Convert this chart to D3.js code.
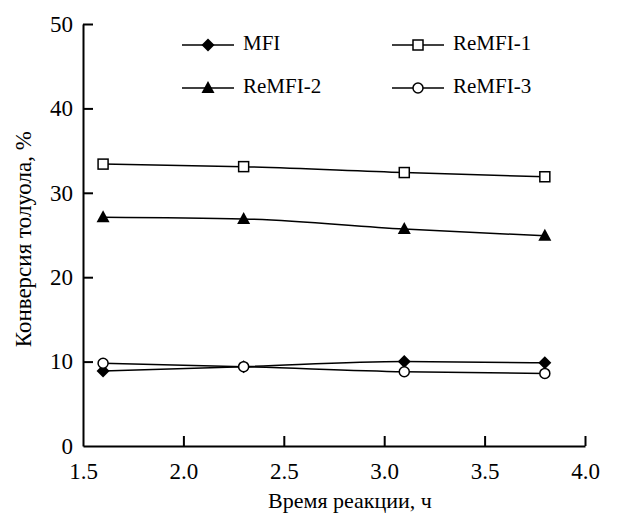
<!DOCTYPE html>
<html>
<head>
<meta charset="utf-8">
<script src="https://cdn.jsdelivr.net/npm/d3@7"></script>
<style>
  body { margin: 0; background: #fff; }
  #prime { position: absolute; left: 300px; top: 300px; color: #fff; font-family: 'Times New Roman', serif; font-size: 20px; }
  #chart { position: absolute; left: 0; top: 0; }
  #chart text { font-family: 'Times New Roman', serif; }
</style>
</head>
<body>
<div id="prime">Время реакции ReMFI 1.5</div>
<svg id="chart" width="637" height="514"></svg>
<script>
const width = 637;
const height = 514;

const times = [1.6, 2.3, 3.1, 3.8];
const mfi = [8.9, 9.4, 10.0, 9.85];
const remfi1 = [33.4, 33.1, 32.4, 31.9];
const remfi2 = [27.1, 26.9, 25.7, 24.9];
const remfi3 = [9.8, 9.4, 8.8, 8.6];

const xTicks = [1.5, 2.0, 2.5, 3.0, 3.5, 4.0];
const yTicks = [0, 10, 20, 30, 40, 50];

const seriesList = [
    { name: "MFI", values: mfi, marker: "diamond" },
    { name: "ReMFI-1", values: remfi1, marker: "square" },
    { name: "ReMFI-2", values: remfi2, marker: "triangle" },
    { name: "ReMFI-3", values: remfi3, marker: "circle" }
];

const margin = { left: 83, right: 52, top: 24, bottom: 68 };

const x = d3.scaleLinear().domain([1.5, 4.0]).range([margin.left, width - margin.right]);
const y = d3.scaleLinear().domain([0, 50]).range([height - margin.bottom, margin.top]);

const svg = d3.select("#chart");

// axes with inward ticks
const xAxis = svg.append("g")
    .attr("transform", `translate(0,${y(0)})`)
    .call(d3.axisBottom(x).tickValues(xTicks).tickSizeInner(-10).tickSizeOuter(0).tickPadding(17).tickFormat(d3.format(".1f")));
const yAxis = svg.append("g")
    .attr("transform", `translate(${x(1.5)},0)`)
    .call(d3.axisLeft(y).tickValues(yTicks).tickSizeInner(-10).tickSizeOuter(0).tickPadding(10));

[xAxis, yAxis].forEach(ax => {
    ax.attr("font-family", null).attr("font-size", 23);
    ax.select(".domain").attr("stroke", "#000").attr("stroke-width", 2);
    ax.selectAll(".tick line").attr("stroke", "#000").attr("stroke-width", 2);
    ax.selectAll(".tick text").attr("fill", "#000");
});
// the 0 and 1.5 tick marks sit on the other axis, hide them
xAxis.selectAll(".tick").filter(d => d === 1.5).select("line").remove();
yAxis.selectAll(".tick").filter(d => d === 0).select("line").remove();
xAxis.selectAll(".tick text").attr("dy", "0.71em");

svg.append("text")
    .attr("x", 350)
    .attr("y", 508)
    .attr("text-anchor", "middle")
    .attr("font-size", 22)
    .text("Время реакции, ч");

svg.append("text")
    .attr("transform", `translate(31,${y(24.5)}) rotate(-90)`)
    .attr("text-anchor", "middle")
    .attr("font-size", 23)
    .text("Конверсия толуола, %");

const line = d3.line()
    .x((d, i) => x(times[i]))
    .y(d => y(d))
    .curve(d3.curveMonotoneX);

function drawMarker(g, type, cx, cy) {
    if (type === "diamond") {
        g.append("path")
            .attr("d", `M${cx},${cy - 6.5}L${cx + 6.5},${cy}L${cx},${cy + 6.5}L${cx - 6.5},${cy}Z`)
            .attr("fill", "#000");
    } else if (type === "square") {
        g.append("rect")
            .attr("x", cx - 5).attr("y", cy - 5)
            .attr("width", 10).attr("height", 10)
            .attr("fill", "#fff").attr("stroke", "#000").attr("stroke-width", 1.5);
    } else if (type === "triangle") {
        g.append("path")
            .attr("d", `M${cx},${cy - 7}L${cx + 6.5},${cy + 5}L${cx - 6.5},${cy + 5}Z`)
            .attr("fill", "#000");
    } else {
        g.append("circle")
            .attr("cx", cx).attr("cy", cy).attr("r", 5)
            .attr("fill", "#fff").attr("stroke", "#000").attr("stroke-width", 1.5);
    }
}

const plot = svg.append("g");
seriesList.forEach(s => {
    plot.append("path")
        .attr("d", line(s.values))
        .attr("fill", "none")
        .attr("stroke", "#000")
        .attr("stroke-width", 1.5);
});
seriesList.forEach(s => {
    s.values.forEach((v, i) => drawMarker(plot, s.marker, x(times[i]), y(v)));
});

// legend, 2x2
const legendPos = [
    { lx: 182, ly: 45 },
    { lx: 392, ly: 45 },
    { lx: 182, ly: 88 },
    { lx: 392, ly: 88 }
];
seriesList.forEach((s, i) => {
    const p = legendPos[i];
    const g = svg.append("g");
    g.append("line")
        .attr("x1", p.lx).attr("x2", p.lx + 52)
        .attr("y1", p.ly).attr("y2", p.ly)
        .attr("stroke", "#000").attr("stroke-width", 1.5);
    drawMarker(g, s.marker, p.lx + 26, p.ly);
    g.append("text")
        .attr("x", p.lx + 61)
        .attr("y", p.ly + 5)
        .attr("font-size", 21)
        .text(s.name);
});
</script>
</body>
</html>
